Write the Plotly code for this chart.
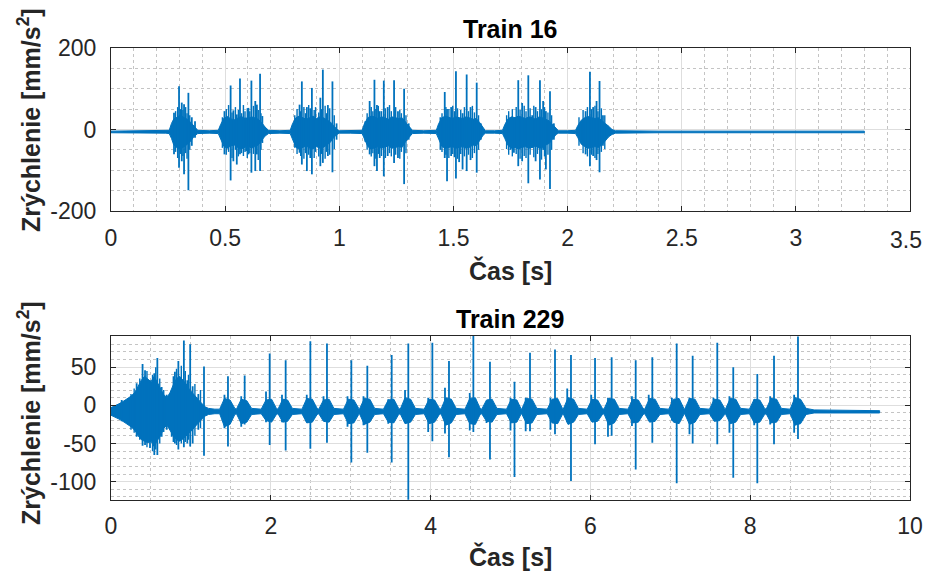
import plotly.graph_objects as go

# ---------------- Train 16 (top) ----------------
env16_t = [0.0, 0.24,
           0.255, 0.265, 0.275, 0.29, 0.305, 0.32, 0.335, 0.35, 0.365, 0.38,
           0.43, 0.47,
           0.48, 0.495, 0.51, 0.525, 0.54, 0.555, 0.57, 0.585, 0.60, 0.615, 0.63, 0.645, 0.66, 0.675, 0.69,
           0.74, 0.785,
           0.795, 0.81, 0.825, 0.84, 0.855, 0.87, 0.885, 0.90, 0.915, 0.93, 0.945, 0.96, 0.975, 0.99, 1.0,
           1.05, 1.10,
           1.11, 1.125, 1.14, 1.155, 1.17, 1.185, 1.20, 1.215, 1.23, 1.245, 1.26, 1.275, 1.29, 1.305, 1.32,
           1.37, 1.425,
           1.435, 1.45, 1.465, 1.48, 1.495, 1.51, 1.525, 1.54, 1.555, 1.57, 1.585, 1.60, 1.615, 1.63, 1.64,
           1.68, 1.715,
           1.725, 1.74, 1.755, 1.77, 1.785, 1.80, 1.815, 1.83, 1.845, 1.86, 1.875, 1.89, 1.905, 1.92, 1.935, 1.95, 1.96,
           2.0, 2.035,
           2.045, 2.06, 2.075, 2.09, 2.105, 2.12, 2.135, 2.15, 2.165, 2.18, 2.195, 2.21,
           2.4, 3.30]
env16_hi = [-4, -3,
            -2, 15, 26, 30, 36, 29, 25, 17, 6, -2,
            -3, -2,
            12, 28, 32, 26, 24, 29, 32, 28, 27, 31, 29, 25, 17, 6, -2,
            -3, -2,
            14, 29, 33, 29, 25, 29, 33, 27, 31, 29, 25, 19, 10, 0, -3,
            -3, -2,
            14, 29, 33, 31, 27, 31, 29, 25, 31, 29, 27, 29, 19, 10, -2,
            -3, -2,
            14, 29, 33, 29, 27, 31, 29, 27, 31, 29, 25, 27, 17, 4, -3,
            -3, -2,
            12, 27, 31, 29, 33, 29, 27, 31, 29, 25, 31, 29, 25, 21, 12, 2, -3,
            -3, -2,
            10, 23, 29, 32, 29, 27, 29, 23, 15, 8, 0, -3,
            -4, -4]
env16_lo = [-8, -9,
            -10, -22, -38, -45, -48, -42, -36, -28, -16, -10,
            -9, -10,
            -22, -42, -46, -40, -38, -44, -48, -44, -40, -46, -42, -38, -28, -16, -10,
            -9, -10,
            -24, -44, -48, -44, -40, -46, -48, -42, -46, -44, -38, -32, -20, -12, -9,
            -9, -10,
            -24, -42, -48, -46, -42, -46, -44, -40, -46, -44, -42, -44, -30, -20, -10,
            -9, -10,
            -24, -42, -46, -44, -42, -46, -44, -42, -46, -44, -38, -40, -28, -14, -9,
            -9, -10,
            -22, -40, -46, -44, -48, -44, -42, -46, -44, -40, -46, -44, -38, -34, -22, -12, -9,
            -9, -10,
            -20, -36, -42, -46, -44, -42, -44, -38, -28, -18, -12, -9,
            -8, -8]

# tall spikes
spk16_t = [0.276, 0.298, 0.310, 0.320, 0.339, 0.354, 0.368,
           0.497, 0.524, 0.536, 0.551, 0.565, 0.592, 0.602, 0.615, 0.632, 0.639, 0.653, 0.663,
           0.826, 0.836, 0.858, 0.873, 0.880, 0.902, 0.917, 0.928, 0.950, 0.970, 0.988,
           1.114, 1.133, 1.154, 1.165, 1.177, 1.195, 1.212, 1.240, 1.257, 1.284, 1.304,
           1.443, 1.462, 1.472, 1.490, 1.511, 1.525, 1.540, 1.558, 1.575, 1.602, 1.620,
           1.750, 1.765, 1.784, 1.801, 1.828, 1.845, 1.860, 1.879, 1.893, 1.905, 1.923, 1.940,
           2.057, 2.079, 2.098, 2.112, 2.127, 2.140, 2.155, 2.175]
spk16_hi = [41, 106, 66, 62, 90, 30, 20,
            45, 108, 47, 37, 125, 29, 53, 120, 70, 61, 137, 33,
            61, 118, 55, 52, 102, 25, 78, 147, 60, 118, 15,
            20, 70, 122, 60, 45, 120, 55, 121, 45, 100, 15,
            30, 92, 50, 55, 143, 25, 40, 135, 55, 115, 15,
            25, 25, 121, 65, 133, 35, 55, 121, 70, 45, 94, 15,
            15, 45, 142, 55, 70, 119, 35, 10]
spk16_lo = [-61, -94, -78, -110, -149, -40, -20,
            -61, -125, -78, -86, -61, -53, -61, -106, -102, -61, -102, -33,
            -57, -86, -102, -70, -110, -40, -90, -82, -65, -105, -25,
            -30, -61, -90, -102, -70, -115, -65, -82, -70, -134, -25,
            -50, -70, -127, -65, -120, -80, -98, -102, -75, -106, -25,
            -50, -57, -90, -78, -132, -45, -78, -123, -50, -98, -146, -25,
            -25, -61, -90, -65, -75, -105, -40, -20]

# medium spikes inside the bursts
mid16_t = [0.283, 0.292, 0.304, 0.315, 0.327, 0.333, 0.345,
           0.488, 0.505, 0.515, 0.530, 0.545, 0.558, 0.572, 0.580, 0.587, 0.597, 0.608, 0.624, 0.645, 0.657,
           0.805, 0.815, 0.831, 0.845, 0.852, 0.866, 0.890, 0.896, 0.910, 0.922, 0.938, 0.944, 0.958, 0.978,
           1.122, 1.140, 1.147, 1.160, 1.171, 1.185, 1.202, 1.220, 1.228, 1.247, 1.265, 1.272, 1.292,
           1.450, 1.467, 1.480, 1.497, 1.504, 1.518, 1.532, 1.548, 1.566, 1.583, 1.592, 1.610,
           1.733, 1.742, 1.758, 1.775, 1.792, 1.810, 1.818, 1.836, 1.852, 1.868, 1.886, 1.899, 1.914, 1.930,
           2.050, 2.068, 2.087, 2.105, 2.120, 2.133, 2.148, 2.163]
mid16_hi = [45, 55, 50, 48, 55, 40, 35,
            30, 50, 60, 42, 55, 48, 40, 60, 45, 52, 45, 58, 48, 40,
            35, 50, 45, 55, 40, 60, 48, 55, 42, 50, 58, 40, 52, 35,
            40, 55, 45, 50, 58, 45, 52, 60, 45, 55, 48, 40, 35,
            40, 55, 50, 58, 45, 52, 48, 55, 45, 58, 42, 35,
            35, 45, 50, 55, 48, 58, 45, 52, 58, 45, 50, 55, 42, 35,
            30, 48, 55, 50, 58, 45, 52, 35]
mid16_lo = [-55, -70, -60, -65, -58, -72, -50,
            -45, -62, -55, -70, -50, -66, -58, -65, -55, -70, -58, -60, -75, -50,
            -45, -60, -65, -72, -58, -62, -70, -55, -66, -60, -72, -55, -62, -48,
            -50, -66, -58, -72, -60, -65, -70, -58, -66, -62, -72, -55, -58,
            -55, -62, -70, -60, -68, -72, -60, -66, -62, -70, -58, -50,
            -48, -62, -66, -60, -72, -65, -70, -62, -68, -60, -74, -66, -62, -50,
            -40, -58, -66, -62, -70, -60, -55, -48]

x16_ticks = [0, 0.5, 1, 1.5, 2, 2.5, 3, 3.5]
x16_labels = ["0", "0.5", "1", "1.5", "2", "2.5", "3", "3.5"]

# ---------------- Train 229 (bottom) ----------------
env229_t = [0.00, 0.05, 0.10, 0.15, 0.20, 0.25, 0.30, 0.34, 0.38, 0.42, 0.46, 0.50, 0.54, 0.58, 0.62,
            0.66, 0.70, 0.74, 0.78, 0.82, 0.86, 0.90, 0.94, 0.98, 1.02, 1.06, 1.10, 1.14, 1.18, 1.22, 1.30,
            1.36, 1.42, 1.49, 1.55,
            1.57, 1.63, 1.70, 1.76,
            1.88, 1.94, 2.01, 2.07,
            2.09, 2.15, 2.21, 2.27,
            2.39, 2.45, 2.52, 2.58,
            2.60, 2.66, 2.73, 2.79,
            2.91, 2.97, 3.04, 3.10,
            3.11, 3.17, 3.24, 3.30,
            3.41, 3.47, 3.54, 3.60,
            3.62, 3.68, 3.75, 3.81,
            3.92, 3.98, 4.05, 4.11,
            4.13, 4.19, 4.26, 4.32,
            4.43, 4.49, 4.56, 4.62,
            4.64, 4.70, 4.77, 4.83,
            4.95, 5.01, 5.08, 5.13,
            5.14, 5.20, 5.27, 5.33,
            5.46, 5.52, 5.59, 5.65,
            5.66, 5.72, 5.79, 5.85,
            5.96, 6.02, 6.09, 6.15,
            6.17, 6.23, 6.30, 6.36,
            6.47, 6.53, 6.60, 6.66,
            6.68, 6.74, 6.81, 6.87,
            6.98, 7.04, 7.11, 7.17,
            7.18, 7.24, 7.31, 7.37,
            7.49, 7.55, 7.62, 7.68,
            7.69, 7.75, 7.82, 7.88,
            7.99, 8.05, 8.12, 8.18,
            8.20, 8.26, 8.33, 8.39,
            8.50, 8.56, 8.63, 8.70,
            8.80, 9.62]
env229_hi = [-3, -1, 2, 5, 8, 12, 17, 26, 33, 38, 34, 31, 38, 30, 24,
             14, 10, 17, 27, 35, 38, 33, 28, 21, 16, 11, 6, 2, -2, -4, -5,
             -5, 9, 7, -4,
             -5, 8, 6, -4,
             -5, 7, 8, -4,
             -5, 8, 7, -4,
             -5, 9, 8, -4,
             -5, 7, 8, -4,
             -5, 8, 7, -4,
             -5, 9, 8, -4,
             -5, 7, 8, -4,
             -5, 10, 8, -4,
             -5, 8, 7, -4,
             -5, 10, 8, -4,
             -5, 9, 10, -4,
             -5, 7, 8, -4,
             -5, 8, 7, -4,
             -5, 9, 8, -4,
             -5, 8, 9, -4,
             -5, 10, 8, -4,
             -5, 8, 7, -4,
             -5, 9, 8, -4,
             -5, 8, 7, -4,
             -5, 9, 8, -4,
             -5, 8, 9, -4,
             -5, 9, 8, -4,
             -5, 8, 7, -4,
             -5, 9, 8, -4,
             -5, 8, 7, -4,
             -5, 9, 8, -4,
             -5, 10, 8, -4,
             -6, -7]
env229_lo = [-13, -15, -18, -21, -24, -28, -33, -40, -45, -47, -49, -47, -54, -46, -40,
             -30, -26, -32, -40, -45, -47, -44, -41, -36, -32, -27, -22, -18, -14, -12, -11,
             -11, -28, -25, -12,
             -11, -24, -22, -12,
             -11, -20, -22, -12,
             -11, -22, -21, -12,
             -11, -23, -22, -12,
             -11, -21, -22, -12,
             -11, -24, -23, -12,
             -11, -25, -22, -12,
             -11, -22, -23, -12,
             -11, -24, -22, -12,
             -11, -24, -22, -12,
             -11, -26, -23, -12,
             -11, -24, -25, -12,
             -11, -21, -22, -12,
             -11, -23, -22, -12,
             -11, -24, -23, -12,
             -11, -23, -24, -12,
             -11, -25, -22, -12,
             -11, -22, -21, -12,
             -11, -26, -23, -12,
             -11, -23, -22, -12,
             -11, -22, -21, -12,
             -11, -22, -24, -12,
             -11, -25, -22, -12,
             -11, -21, -20, -12,
             -11, -24, -22, -12,
             -11, -23, -22, -12,
             -11, -23, -22, -12,
             -11, -26, -24, -12,
             -10, -10]

spk229_t = [0.134, 0.217, 0.321, 0.395, 0.426, 0.488, 0.542, 0.580, 0.634, 0.697, 0.760, 0.800,
            0.843, 0.864, 0.912, 0.955, 0.991, 1.022, 1.093, 1.164,
            1.42, 1.464, 1.63, 1.673, 1.94, 1.986, 2.14, 2.186, 2.45, 2.495, 2.66, 2.703,
            2.96, 3.008, 3.16, 3.208, 3.47, 3.513, 3.68, 3.721, 3.97, 4.022, 4.18, 4.23,
            4.49, 4.535, 4.70, 4.743, 5.00, 5.05, 5.19, 5.244, 5.50, 5.557, 5.71, 5.757,
            6.01, 6.058, 6.22, 6.266, 6.52, 6.567, 6.73, 6.775, 7.02, 7.08, 7.24, 7.28,
            7.54, 7.588, 7.74, 7.788, 8.05, 8.089, 8.25, 8.298, 8.55, 8.598]
spk229_hi = [7, 7, 29, 54, 46, 33, 42, 62, 24, 14, 20, 44,
             58, 33, 85, 33, 80, 25, 15, 51,
             14, 38, 12, 39, 18, 68, 14, 59, 14, 84, 12, 81,
             12, 59, 12, 52, 8, 66, 20, 81, 10, 82, 23, 58,
             16, 91, 4, 57, 10, 31, 10, 69, 10, 73, 22, 66,
             14, 62, 10, 63, 12, 59, 14, 63, 10, 81, 10, 65,
             10, 82, 12, 50, 8, 41, 12, 65, 14, 90]
spk229_lo = [-21, -24, -41, -53, -52, -56, -65, -65, -41, -32, -41, -50,
             -58, -45, -55, -50, -54, -50, -32, -66,
             -30, -54, -28, -25, -22, -52, -22, -59, -22, -57, -20, -49,
             -28, -75, -26, -62, -24, -75, -22, -124, -35, -47, -37, -68,
             -33, -35, -23, -71, -33, -94, -34, -34, -32, -38, -22, -99,
             -20, -51, -41, -40, -27, -84, -17, -49, -20, -102, -38, -50,
             -18, -51, -36, -95, -26, -102, -25, -51, -36, -44]

mid229_t = [0.25, 0.29, 0.36, 0.45, 0.52, 0.56, 0.61, 0.66, 0.78, 0.82, 0.88, 0.93, 0.97, 1.05, 1.12]
mid229_hi = [15, 22, 35, 45, 40, 50, 35, 20, 38, 48, 52, 45, 40, 28, 20]
mid229_lo = [-32, -36, -45, -55, -60, -58, -50, -35, -48, -52, -50, -48, -45, -40, -30]

# ---------------- drawing ----------------
BLUE = "#0072BD"
FONT = "Liberation Sans, Arial, sans-serif"
TICK = "#262626"
W, H = 925, 576
TICK_SIZE = 23


def polygon(ts, his, los):
    xs = list(ts) + list(ts)[::-1] + [ts[0]]
    ys = list(his) + list(los)[::-1] + [his[0]]
    return xs, ys


def spikes(ts, his, los):
    xs, ys = [], []
    for t, h, l in zip(ts, his, los):
        xs += [t, t, None]
        ys += [l, h, None]
    return xs, ys


fig = go.Figure()
for (et, eh, el, spk, mid, xa, ya) in [
    (env16_t, env16_hi, env16_lo, (spk16_t, spk16_hi, spk16_lo), (mid16_t, mid16_hi, mid16_lo), "x", "y"),
    (env229_t, env229_hi, env229_lo, (spk229_t, spk229_hi, spk229_lo), (mid229_t, mid229_hi, mid229_lo), "x2", "y2"),
]:
    px_, py_ = polygon(et, eh, el)
    fig.add_trace(go.Scatter(x=px_, y=py_, xaxis=xa, yaxis=ya, mode="lines",
                             fill="toself", fillcolor=BLUE,
                             line=dict(color=BLUE, width=1),
                             hoverinfo="skip", showlegend=False))
    mx, my = spikes(*mid)
    fig.add_trace(go.Scatter(x=mx, y=my, xaxis=xa, yaxis=ya, mode="lines",
                             line=dict(color=BLUE, width=1.4),
                             hoverinfo="skip", showlegend=False))
    sx, sy = spikes(*spk)
    fig.add_trace(go.Scatter(x=sx, y=sy, xaxis=xa, yaxis=ya, mode="lines",
                             line=dict(color=BLUE, width=1.8),
                             hoverinfo="skip", showlegend=False))

axis_common = dict(showline=True, linecolor=TICK, linewidth=1, mirror="ticks",
                   ticks="inside", ticklen=5, tickcolor=TICK, tickwidth=1,
                   showgrid=True, gridcolor="#dedede", gridwidth=1, zeroline=False,
                   automargin=False,
                   tickfont=dict(family=FONT, size=TICK_SIZE, color=TICK))
minor_common = dict(showgrid=True, gridcolor="#c4c4c4", griddash="dot", gridwidth=1, ticks="")

xdom = [111 / W, 910 / W]
ydom1 = [1 - 211 / H, 1 - 48 / H]
ydom2 = [1 - 499.7 / H, 1 - 335.7 / H]

# the last top label sits at the very edge of the page: draw it as a text a few pixels in
x16_axis_labels = x16_labels[:-1] + [""]

fig.update_layout(
    width=W, height=H, margin=dict(l=0, r=0, t=0, b=0, pad=0, autoexpand=False),
    paper_bgcolor="white", plot_bgcolor="white", showlegend=False,
    xaxis=dict(domain=xdom, anchor="y", range=[0, 3.5], tickvals=x16_ticks, ticktext=x16_axis_labels,
               minor=dict(dtick=0.1, **minor_common), ticklabelstandoff=6, **axis_common),
    yaxis=dict(domain=ydom1, anchor="x", range=[-200, 200], tickvals=[-200, 0, 200],
               ticktext=["-200", "0", "200"], minor=dict(dtick=50, **minor_common),
               ticklabelstandoff=9, **axis_common),
    xaxis2=dict(domain=xdom, anchor="y2", range=[0, 10], tick0=0, dtick=2,
                minor=dict(dtick=0.5, **minor_common), ticklabelstandoff=6, **axis_common),
    yaxis2=dict(domain=ydom2, anchor="x2", range=[-123.6, 91.2], tickvals=[-100, -50, 0, 50],
                ticktext=["-100", "-50", "0", "50"], minor=dict(dtick=10, **minor_common),
                ticklabelstandoff=9, **axis_common),
)

fig.add_annotation(text=x16_labels[-1], x=x16_ticks[-1], xref="x", y=1 - 211 / H, yref="paper",
                   xanchor="right", yanchor="top", xshift=14, yshift=-14, showarrow=False,
                   font=dict(family=FONT, size=TICK_SIZE, color=TICK))


def ann(text, x, y, size, color, angle=0):
    fig.add_annotation(text=text, x=x / W, y=1 - y / H, xref="paper", yref="paper",
                       showarrow=False, textangle=angle, xanchor="center", yanchor="middle",
                       font=dict(family=FONT, size=size, color=color))


ann("<b>Train 16</b>", 510, 29, 25, "#000000")
ann("<b>Train 229</b>", 510, 319, 25, "#000000")
ann("<b>Čas [s]</b>", 510, 270, 25, TICK)
ann("<b>Čas [s]</b>", 510, 556, 25, TICK)
ann("<b>Zrýchlenie [mm/s<sup>2</sup>]</b>", 29, 120, 25, TICK, -90)
ann("<b>Zrýchlenie [mm/s<sup>2</sup>]</b>", 29, 413, 25, TICK, -90)

fig.write_html("out.html")
